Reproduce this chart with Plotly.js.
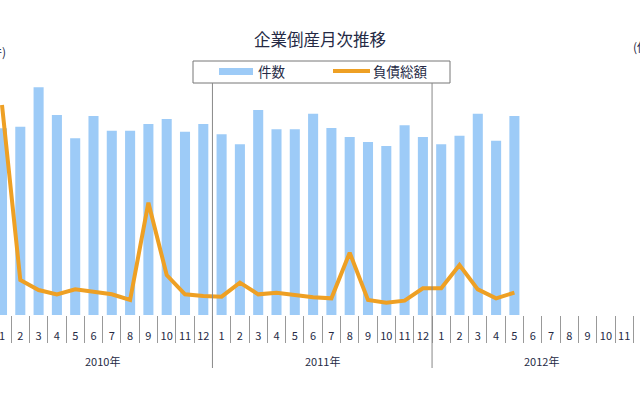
<!DOCTYPE html>
<html>
<head>
<meta charset="utf-8">
<script src="https://cdn.plot.ly/plotly-3.0.1.min.js"></script>
<style>
  html, body { margin: 0; padding: 0; background: #fff; }
  #chart { width: 640px; height: 400px; }
</style>
</head>
<body>
<div id="chart"></div>
<script>
// months 2010-01 .. 2012-12
var months = ['1','2','3','4','5','6','7','8','9','10','11','12',
              '1','2','3','4','5','6','7','8','9','10','11','12',
              '1','2','3','4','5','6','7','8','9','10','11','12'];
var years = ['2010年', '2011年', '2012年'];

// 件数 (bars)
var counts = [1090, 1098, 1328, 1167, 1031, 1161, 1075, 1075, 1114, 1143, 1069, 1114,
              1054, 996, 1196, 1083, 1083, 1174, 1091, 1038, 1009, 986, 1107, 1038,
              996, 1046, 1174, 1017, 1161];

// 負債総額 (line, 億円)
var debt = [12600, 2100, 1500, 1240, 1540, 1360, 1240, 900, 6740, 2400, 1240, 1140,
            1100, 1940, 1240, 1340, 1200, 1060, 1000, 3740, 900, 740, 860, 1600,
            1600, 3000, 1540, 1000, 1340];

var idx = months.map(function (m, i) { return i; });
var xc = counts.map(function (v, i) { return i; });
var xd = debt.map(function (v, i) { return i; });

var font = 'Noto Sans CJK JP, sans-serif';
var txt = '#252a45';

// px -> paper helpers (plot area spans full width, y 75..315)
function px(x) { return x / 640; }
function py(y) { return (315 - y) / 240; }

var traces = [
  {
    type: 'bar', x: xc, y: counts, name: '件数',
    marker: { color: '#9dcbf7' }, width: 0.55
  },
  {
    type: 'scatter', mode: 'lines', x: xd, y: debt, name: '負債総額',
    yaxis: 'y2', line: { color: '#eea024', width: 4 }
  }
];

var ann = [
  { text: '(件)', xref: 'paper', yref: 'paper', x: px(8), y: py(52), xanchor: 'right', yanchor: 'middle',
    showarrow: false, font: { family: font, size: 12, color: txt } },
  { text: '(億円)', xref: 'paper', yref: 'paper', x: px(631), y: py(47), xanchor: 'left', yanchor: 'middle',
    showarrow: false, font: { family: font, size: 12, color: txt } },
  // legend texts
  { text: '件数', xref: 'paper', yref: 'paper', x: px(256), y: py(71), xanchor: 'left', yanchor: 'middle',
    showarrow: false, font: { family: font, size: 13.5, color: txt } },
  { text: '負債総額', xref: 'paper', yref: 'paper', x: px(371), y: py(71), xanchor: 'left', yanchor: 'middle',
    showarrow: false, font: { family: font, size: 13.5, color: txt } }
];
years.forEach(function (y, i) {
  ann.push({ text: y, xref: 'x', yref: 'paper', x: i * 12 + 5.5, y: py(361), xanchor: 'center', yanchor: 'middle',
    showarrow: false, font: { family: font, size: 11, color: txt } });
});

var shapes = [
  // legend box and swatches
  { type: 'rect', xref: 'paper', yref: 'paper', x0: px(193), x1: px(450), y0: py(83), y1: py(61),
    line: { color: '#777', width: 1 }, fillcolor: 'rgba(0,0,0,0)' },
  { type: 'rect', xref: 'paper', yref: 'paper', x0: px(219), x1: px(253), y0: py(75), y1: py(68),
    line: { width: 0 }, fillcolor: '#9dcbf7' },
  { type: 'line', xref: 'paper', yref: 'paper', x0: px(333), x1: px(370), y0: py(71), y1: py(71),
    line: { color: '#eea024', width: 4 } }
];
// year separators
[11.5, 23.5].forEach(function (v) {
  shapes.push({ type: 'line', xref: 'x', yref: 'paper', x0: v, x1: v, y0: py(368), y1: py(83),
    line: { color: '#888', width: 1 } });
});

var x0 = -2 / 18.3;
var layout = {
  width: 640, height: 400,
  margin: { l: 0, r: 0, t: 75, b: 85 },
  paper_bgcolor: '#fff', plot_bgcolor: '#fff',
  showlegend: false,
  title: { text: '企業倒産月次推移', x: 0.5, xanchor: 'center', y: 0.9, yanchor: 'middle',
    yref: 'container', font: { family: font, size: 16.5, color: txt } },
  xaxis: {
    range: [x0, x0 + 640 / 18.3],
    tickmode: 'array', tickvals: idx, ticktext: months,
    ticks: '', ticklabelstandoff: 13, ticklabeloverflow: 'allow',
    tickfont: { family: font, size: 11, color: txt },
    showgrid: false, zeroline: false, showline: false,
    minor: { tickmode: 'linear', tick0: -0.5, dtick: 1, ticks: 'outside', ticklen: 27,
      tickcolor: '#999', tickwidth: 1, showgrid: false }
  },
  yaxis: { range: [0, 1400], visible: false, showgrid: false, zeroline: false },
  yaxis2: { range: [0, 14400], overlaying: 'y', side: 'right', visible: false, showgrid: false, zeroline: false },
  annotations: ann,
  shapes: shapes
};

Plotly.newPlot('chart', traces, layout, { staticPlot: true });
</script>
</body>
</html>
